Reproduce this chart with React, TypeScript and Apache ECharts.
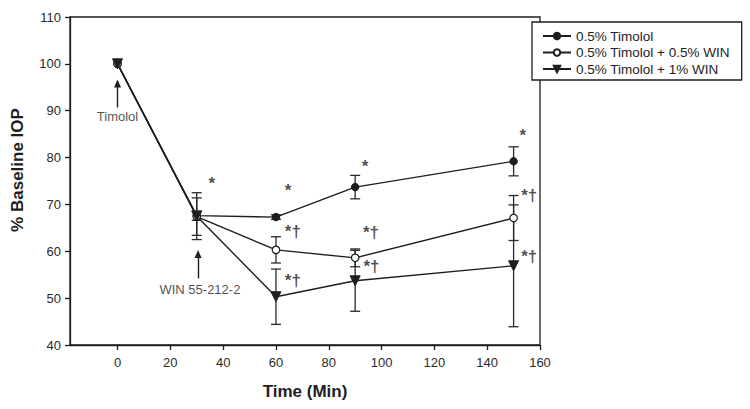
import React, { useEffect, useRef } from "react";
import * as echarts from "echarts";

const times = [0, 30, 60, 90, 150];
const timolol = [100, 67.6, 67.3, 73.7, 79.2];
const timololWin05 = [100, 67.4, 60.3, 58.6, 67.1];
const timololWin1 = [100, 67.5, 50.3, 53.7, 56.9];
const timololErr = [0, 1, 0.5, 2.5, 3.1];
const win05Err = [0, 4, 2.8, 1.9, 4.8];
const win1Err = [0, 5, 5.9, 6.5, 13];

const seriesNames = ["0.5% Timolol", "0.5% Timolol + 0.5% WIN", "0.5% Timolol + 1% WIN"];
const xTicks = [0, 20, 40, 60, 80, 100, 120, 140, 160];
const yTitle = "% Baseline IOP";
const xTitle = "Time (Min)";

// significance marks: [time, value, text]
const marks: [number, number, string][] = [
  [35.7, 74.4, "*"],
  [64.6, 73.0, "*"],
  [93.7, 78.2, "*"],
  [153.5, 84.7, "*"],
  [66.4, 64.3, "*†"],
  [66.4, 53.7, "*†"],
  [96.0, 64.0, "*†"],
  [96.2, 56.7, "*†"],
  [155.9, 71.8, "*†"],
  [155.9, 58.8, "*†"],
];
// treatment annotations: [time, value, text]
const notes: [number, number, string][] = [
  [0, 88.7, "Timolol"],
  [31.2, 51.9, "WIN 55-212-2"],
];
// arrows: [time, fromValue, toValue]
const arrows: [number, number, number][] = [
  [0, 90.7, 95.8],
  [30.5, 54.2, 59.4],
];

const FONT = "'Liberation Sans', Arial, sans-serif";
const INK = "#1e1e1e";

function errData(vals: number[], errs: number[]) {
  return times
    .map((t, i) => [t, vals[i] - errs[i], vals[i] + errs[i]])
    .filter((_, i) => errs[i] > 0);
}

function errorRender(params: any, api: any) {
  const x = api.value(0);
  const lo = api.coord([x, api.value(1)]);
  const hi = api.coord([x, api.value(2)]);
  const hw = 5;
  const style = { stroke: "#2a2a2a", lineWidth: 1.3, fill: null };
  return {
    type: "group",
    children: [
      { type: "line", shape: { x1: lo[0], y1: lo[1], x2: hi[0], y2: hi[1] }, style },
      { type: "line", shape: { x1: lo[0] - hw, y1: lo[1], x2: lo[0] + hw, y2: lo[1] }, style },
      { type: "line", shape: { x1: hi[0] - hw, y1: hi[1], x2: hi[0] + hw, y2: hi[1] }, style },
    ],
  };
}

export default function App() {
  const ref = useRef<HTMLDivElement>(null);
  useEffect(() => {
    if (!ref.current) return;
    const chart = echarts.init(ref.current, null, { renderer: "svg" });
    const pair = (vals: number[]) => times.map((t, i) => [t, vals[i]]);
    const lineBase = {
      type: "line",
      z: 3,
      lineStyle: { color: INK, width: 1.4 },
      emphasis: { disabled: true },
    };
    chart.setOption({
      animation: false,
      backgroundColor: "#ffffff",
      textStyle: { fontFamily: FONT },
      grid: { left: 70, right: 210, top: 17, bottom: 64, show: true, borderColor: INK, borderWidth: 1.3 },
      graphic: [
        {
          type: "text",
          x: 17,
          y: 170,
          rotation: Math.PI / 2,
          style: {
            text: yTitle,
            fontSize: 17,
            fontWeight: "bold",
            fill: INK,
            fontFamily: FONT,
            align: "center",
            verticalAlign: "middle",
          },
        },
      ],
      legend: {
        data: seriesNames,
        orient: "vertical",
        left: 532,
        top: 22,
        padding: [7, 12, 4, 10],
        itemGap: 2.5,
        itemWidth: 28,
        itemHeight: 8,
        selectedMode: false,
        backgroundColor: "#ffffff",
        borderColor: INK,
        borderWidth: 1.3,
        textStyle: { fontSize: 13.5, color: INK, fontFamily: FONT },
      },
      xAxis: {
        type: "value",
        min: -18,
        max: 160,
        name: xTitle,
        nameLocation: "middle",
        nameGap: 38,
        nameTextStyle: { fontSize: 17, fontWeight: "bold", color: INK, fontFamily: FONT },
        splitLine: { show: false },
        axisLine: { onZero: false, lineStyle: { color: INK, width: 1.3 } },
        axisTick: { show: true, length: 5, customValues: xTicks, lineStyle: { color: INK, width: 1.3 } },
        axisLabel: { customValues: xTicks, fontSize: 13, color: "#2a2a2a", margin: 11, fontFamily: FONT },
      },
      yAxis: {
        type: "value",
        min: 40,
        max: 110,
        interval: 10,
        splitLine: { show: false },
        axisLine: { show: true, onZero: false, lineStyle: { color: INK, width: 1.3 } },
        axisTick: { show: true, length: 5, lineStyle: { color: INK, width: 1.3 } },
        axisLabel: { fontSize: 13, color: "#2a2a2a", margin: 9, fontFamily: FONT },
      },
      series: [
        { type: "custom", name: "err1", z: 1, renderItem: errorRender, data: errData(timolol, timololErr), silent: true },
        { type: "custom", name: "err2", z: 1, renderItem: errorRender, data: errData(timololWin05, win05Err), silent: true },
        { type: "custom", name: "err3", z: 1, renderItem: errorRender, data: errData(timololWin1, win1Err), silent: true },
        {
          ...lineBase,
          name: seriesNames[0],
          data: pair(timolol),
          symbol: "circle",
          symbolSize: 7.5,
          itemStyle: { color: INK, borderColor: INK, borderWidth: 1 },
        },
        {
          ...lineBase,
          name: seriesNames[1],
          data: pair(timololWin05),
          symbol: "circle",
          symbolSize: 7.5,
          itemStyle: { color: "#ffffff", borderColor: INK, borderWidth: 1.2 },
        },
        {
          ...lineBase,
          name: seriesNames[2],
          data: pair(timololWin1),
          symbol: "triangle",
          symbolRotate: 180,
          symbolSize: 10,
          itemStyle: { color: INK, borderColor: INK, borderWidth: 1 },
        },
        {
          type: "scatter",
          name: "marks",
          z: 5,
          silent: true,
          symbolSize: 0,
          data: marks.map((m) => ({ value: [m[0], m[1]], name: m[2] })),
          label: {
            show: true,
            position: "inside",
            formatter: (p: any) => p.name,
            fontSize: 17,
            fontWeight: "bold",
            color: INK,
            fontFamily: FONT,
          },
        },
        {
          type: "scatter",
          name: "notes",
          z: 5,
          silent: true,
          symbolSize: 0,
          data: notes.map((m) => ({ value: [m[0], m[1]], name: m[2] })),
          label: {
            show: true,
            position: "inside",
            formatter: (p: any) => p.name,
            fontSize: 13,
            color: INK,
            fontFamily: FONT,
          },
          markLine: {
            silent: true,
            symbol: ["none", "triangle"],
            symbolSize: [7, 8],
            label: { show: false },
            lineStyle: { color: INK, width: 1.4, type: "solid" },
            emphasis: { disabled: true },
            data: arrows.map((a) => [{ coord: [a[0], a[1]] }, { coord: [a[0], a[2]] }]),
          },
        },
      ],
    });
    return () => chart.dispose();
  }, []);
  return (
    <div
      ref={ref}
      style={{ position: "fixed", left: 0, top: 0, width: 750, height: 409, background: "#fff" }}
    />
  );
}
